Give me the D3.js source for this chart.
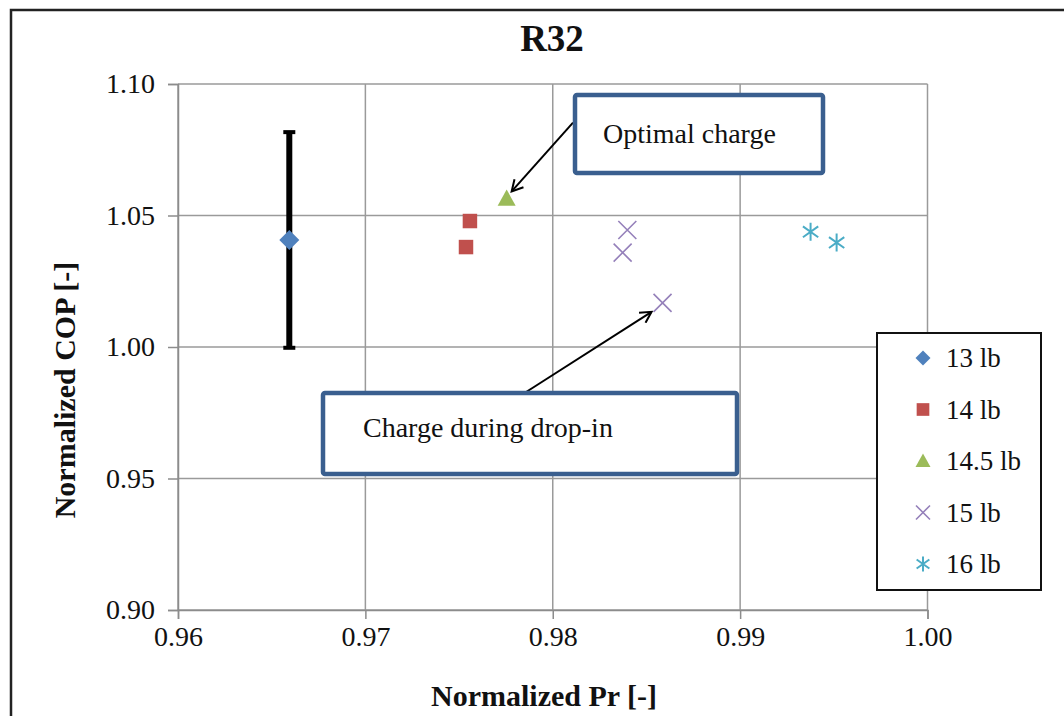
<!DOCTYPE html>
<html>
<head>
<meta charset="utf-8">
<script src="https://cdn.jsdelivr.net/npm/d3@7"></script>
<style>
  html, body { margin: 0; padding: 0; background: #fff; }
  svg { display: block; }
  text { font-family: "Liberation Serif", "Times New Roman", serif; fill: #111; }
</style>
</head>
<body>
<svg id="chart" width="1064" height="716"></svg>
<script>
// ---- data ----
const seriesNames = ["13 lb", "14 lb", "14.5 lb", "15 lb", "16 lb"];
const pr13 = [0.96594];          const cop13 = [1.0407];
const pr14 = [0.97558, 0.97537]; const cop14 = [1.0479, 1.0380];
const pr145 = [0.97754];         const cop145 = [1.0565];
const pr15 = [0.98398, 0.98373, 0.98586]; const cop15 = [1.0445, 1.0359, 1.0168];
const pr16 = [0.99376, 0.99515]; const cop16 = [1.0438, 1.0397];
const err13 = [0.041];           // +/- uncertainty on the 13 lb point
const xTicks = [0.96, 0.97, 0.98, 0.99, 1.00];
const yTicks = [0.90, 0.95, 1.00, 1.05, 1.10];

const svg = d3.select("#chart");
const W = 1064, H = 716;
const m = { left: 178, top: 84, right: 1064 - 927.5, bottom: 716 - 610 };

const x = d3.scaleLinear().domain([0.96, 1.00]).range([m.left, W - m.right]);
const y = d3.scaleLinear().domain([0.90, 1.10]).range([H - m.bottom, m.top]);

// chart frame
svg.append("rect").attr("x", 11).attr("y", 10).attr("width", 1100).attr("height", 760)
  .attr("fill", "#fff").attr("stroke", "#222").attr("stroke-width", 2.5);

// gridlines
const grid = svg.append("g").attr("stroke", "#9a9a9a").attr("stroke-width", 1.5);
grid.selectAll(".gx").data(xTicks).join("line")
  .attr("x1", d => x(d)).attr("x2", d => x(d)).attr("y1", y(0.90)).attr("y2", y(1.10));
grid.selectAll(".gy").data(yTicks).join("line")
  .attr("y1", d => y(d)).attr("y2", d => y(d)).attr("x1", x(0.96)).attr("x2", x(1.00));

// axes
const fmt = d3.format(".2f");
const xAxis = svg.append("g").attr("transform", `translate(0,${y(0.90)})`)
  .call(d3.axisBottom(x).tickValues(xTicks).tickFormat(fmt).tickSize(9).tickPadding(7));
const yAxis = svg.append("g").attr("transform", `translate(${x(0.96)},0)`)
  .call(d3.axisLeft(y).tickValues(yTicks).tickFormat(fmt).tickSize(10).tickPadding(13));
[xAxis, yAxis].forEach(a => {
  a.select(".domain").attr("stroke", "#8c8c8c").attr("stroke-width", 1.5);
  a.selectAll(".tick line").attr("stroke", "#8c8c8c").attr("stroke-width", 1.5);
  a.selectAll(".tick text").attr("font-family", "Liberation Serif, serif")
    .attr("font-size", 28).attr("fill", "#222");
});

// titles
svg.append("text").attr("x", 552).attr("y", 51).attr("text-anchor", "middle")
  .attr("font-size", 37).attr("font-weight", "bold").text("R32");
svg.append("text").attr("x", 544).attr("y", 706).attr("text-anchor", "middle")
  .attr("font-size", 30).attr("font-weight", "bold").text("Normalized Pr [-]");
svg.append("text").attr("transform", "translate(75,390) rotate(-90)").attr("text-anchor", "middle")
  .attr("font-size", 30).attr("font-weight", "bold").text("Normalized COP [-]");

// marker drawers
const colors = ["#4F81BD", "#C0504D", "#9BBB59", "#9580BA", "#4BACC6"];
function marker(g, type, s) {
  if (type === 0) {
    g.append("path").attr("d", d3.symbol(d3.symbolSquare, s * s * 0.5)())
      .attr("transform", "rotate(45)").attr("fill", colors[0]);
  } else if (type === 1) {
    g.append("path").attr("d", d3.symbol(d3.symbolSquare, s * s * 0.82)()).attr("fill", colors[1]);
  } else if (type === 2) {
    const h = s * 0.9, w = s;
    g.append("path").attr("d", `M0,${-h * 0.55}L${w / 2},${h * 0.45}L${-w / 2},${h * 0.45}Z`).attr("fill", colors[2]);
  } else if (type === 3) {
    const r = s / 2;
    g.append("path").attr("d", `M${-r},${-r}L${r},${r}M${-r},${r}L${r},${-r}`)
      .attr("stroke", colors[3]).attr("stroke-width", 1.6).attr("fill", "none");
  } else {
    const r = s / 2;
    g.append("path").attr("d", `M${-r * 0.85},${-r * 0.6}L${r * 0.85},${r * 0.6}M${-r * 0.85},${r * 0.6}L${r * 0.85},${-r * 0.6}M0,${-r}L0,${r}`)
      .attr("stroke", colors[4]).attr("stroke-width", 2).attr("fill", "none");
  }
}

// error bar for 13 lb
const eb = svg.append("g").attr("stroke", "#000");
pr13.forEach((p, i) => {
  const cx = x(p);
  eb.append("line").attr("x1", cx).attr("x2", cx)
    .attr("y1", y(cop13[i] + err13[i])).attr("y2", y(cop13[i] - err13[i])).attr("stroke-width", 6);
  [cop13[i] + err13[i], cop13[i] - err13[i]].forEach(v => {
    eb.append("line").attr("x1", cx - 6).attr("x2", cx + 6).attr("y1", y(v)).attr("y2", y(v)).attr("stroke-width", 4);
  });
});

// data points
const allSeries = [[pr13, cop13], [pr14, cop14], [pr145, cop145], [pr15, cop15], [pr16, cop16]];
const sizes = [20, 16, 18, 18, 18];
allSeries.forEach(([px, py], si) => {
  px.forEach((p, i) => {
    const g = svg.append("g").attr("transform", `translate(${x(p)},${y(py[i])})`);
    marker(g, si, sizes[si]);
  });
});

// annotation arrows
svg.append("defs").append("marker").attr("id", "arr")
  .attr("viewBox", "-12 -7 14 14").attr("refX", 0).attr("refY", 0)
  .attr("markerWidth", 14).attr("markerHeight", 14).attr("markerUnits", "userSpaceOnUse")
  .attr("orient", "auto")
  .append("path").attr("d", "M-11,-6L0,0L-11,6").attr("fill", "none")
  .attr("stroke", "#000").attr("stroke-width", 2);

function box(x0, y0, x1, y1, label, tx, ty) {
  svg.append("rect").attr("x", x0).attr("y", y0).attr("width", x1 - x0).attr("height", y1 - y0)
    .attr("rx", 2).attr("fill", "#fff").attr("stroke", "#3A5F8F").attr("stroke-width", 4.5);
  svg.append("text").attr("x", tx).attr("y", ty).attr("font-size", 28).attr("fill", "#222").text(label);
}

// "Optimal charge" callout pointing to the 14.5 lb point
const optX = x(pr145[0]) + 5, optY = y(cop145[0]) - 7;
svg.append("line").attr("x1", 573).attr("y1", 122.7).attr("x2", optX).attr("y2", optY)
  .attr("stroke", "#000").attr("stroke-width", 2).attr("marker-end", "url(#arr)");
box(575, 95, 823, 173, "Optimal charge", 603, 143);

// "Charge during drop-in" callout pointing to the last 15 lb point
const dropX = x(pr15[2]) - 11, dropY = y(cop15[2]) + 9;
svg.append("line").attr("x1", 523).attr("y1", 394).attr("x2", dropX).attr("y2", dropY)
  .attr("stroke", "#000").attr("stroke-width", 2).attr("marker-end", "url(#arr)");
box(323, 393, 737, 474, "Charge during drop-in", 363, 437);

// legend
const lg = svg.append("g");
lg.append("rect").attr("x", 877).attr("y", 333).attr("width", 164).attr("height", 257)
  .attr("fill", "#fff").attr("stroke", "#111").attr("stroke-width", 2);
const rowY = [358, 409.5, 461, 512.5, 564];
const legSizes = [15, 14, 15, 14, 15];
seriesNames.forEach((name, i) => {
  const g = lg.append("g").attr("transform", `translate(923,${rowY[i]})`);
  marker(g, i, legSizes[i]);
  lg.append("text").attr("x", 946).attr("y", rowY[i] + 9).attr("font-size", 27).attr("fill", "#222").text(name);
});
</script>
</body>
</html>
